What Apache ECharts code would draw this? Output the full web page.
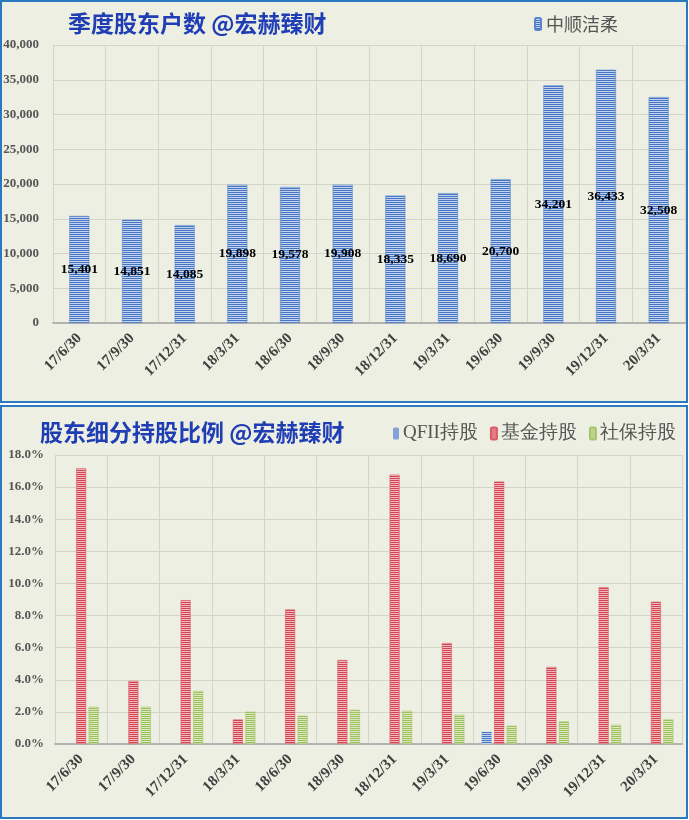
<!DOCTYPE html>
<html><head><meta charset="utf-8">
<script src="https://cdn.jsdelivr.net/npm/echarts@6/dist/echarts.min.js"></script>
<style>html,body{margin:0;padding:0;background:#fff;}#c{width:689px;height:820px;}</style>
</head><body><div id="c"></div>
<script>
// ---- data ----
var categories = ['17/6/30','17/9/30','17/12/31','18/3/31','18/6/30','18/9/30','18/12/31','19/3/31','19/6/30','19/9/30','19/12/31','20/3/31'];
var holders = [15401,14851,14085,19898,19578,19908,18335,18690,20700,34201,36433,32508];
var qfiiPct = [0,0,0,0,0,0,0,0,0.77,0,0,0];
var fundPct = [17.17,3.93,8.96,1.53,8.38,5.23,16.78,6.29,16.35,4.80,9.77,8.86];
var ssfPct  = [2.32,2.32,3.31,2.01,1.76,2.13,2.07,1.82,1.14,1.41,1.20,1.53];
var topTicks = [0,5000,10000,15000,20000,25000,30000,35000,40000];
var bottomTicks = [0,2,4,6,8,10,12,14,16,18];

function stripe(dark, light){
  var cv = document.createElement('canvas');
  cv.width = 4; cv.height = 2;
  var g = cv.getContext('2d');
  g.fillStyle = dark; g.fillRect(0,0,4,1);
  g.fillStyle = light; g.fillRect(0,1,4,1);
  return {image: cv, repeat: 'repeat'};
}
var blueP = stripe('#4675c4', '#c3d3ee');
var redP = stripe('#d2444f', '#f4b9be');
var greenP = stripe('#9dbf5c', '#dce8bf');

var bg = '#edefe2';
var frame = '#2a78c0';
var serif = '"Liberation Serif","Times New Roman",serif';
var cjk = '"Noto Sans CJK SC","Noto Sans",sans-serif';
var gridLine = '#d2d5c8';

var chart = echarts.init(document.getElementById('c'), null, {renderer:'canvas'});
chart.setOption({
  backgroundColor: '#ffffff',
  animation: false,
  graphic: [
    {type:'rect', z:-10, shape:{x:1,y:1,width:686,height:401}, style:{fill:bg, stroke:frame, lineWidth:2}},
    {type:'rect', z:-10, shape:{x:1,y:406,width:686,height:412}, style:{fill:bg, stroke:frame, lineWidth:2}}
  ],
  title: [
    {text:'季度股东户数 @宏赫臻财', left:63, top:7, textStyle:{fontFamily:cjk, fontSize:23, fontWeight:'bold', color:'#1f3db5'}},
    {text:'股东细分持股比例 @宏赫臻财', left:35, top:416, textStyle:{fontFamily:cjk, fontSize:23, fontWeight:'bold', color:'#1f3db5'}}
  ],
  legend: [
    {data:['中顺洁柔'], left:529, top:10, itemWidth:6, itemHeight:12, itemGap:10,
     textStyle:{fontFamily:cjk, fontSize:18, color:'#555555', padding:[0,0,0,0]}},
    {data:['QFII持股','基金持股','社保持股'], left:388, top:419, itemWidth:6, itemHeight:12, itemGap:12,
     textStyle:{fontFamily:serif, fontSize:19, color:'#555555', padding:[0,0,0,-1]}}
  ],
  grid: [
    {left:53, right:4, top:45, bottom:497, containLabel:false},
    {left:55, right:7, top:455, bottom:76, containLabel:false}
  ],
  xAxis: [
    {type:'category', gridIndex:0, data:categories,
     axisLine:{lineStyle:{color:'#b3b3b3', width:2}}, axisTick:{show:false},
     splitLine:{show:true, lineStyle:{color:gridLine}},
     axisLabel:{rotate:45, margin:13, fontFamily:serif, fontSize:15, fontWeight:'bold', color:'#404040', interval:0}},
    {type:'category', gridIndex:1, data:categories,
     axisLine:{lineStyle:{color:'#b3b3b3', width:2}}, axisTick:{show:false},
     splitLine:{show:true, lineStyle:{color:gridLine}},
     axisLabel:{rotate:45, margin:13, fontFamily:serif, fontSize:15, fontWeight:'bold', color:'#404040', interval:0}}
  ],
  yAxis: [
    {type:'value', gridIndex:0, min:topTicks[0], max:topTicks[topTicks.length-1], interval:5000,
     axisLine:{show:false}, axisTick:{show:false},
     splitLine:{lineStyle:{color:gridLine}},
     axisLabel:{margin:14, fontFamily:serif, fontSize:13, fontWeight:'bold', color:'#555555',
       formatter:function(v){return v.toLocaleString('en-US');}}},
    {type:'value', gridIndex:1, min:bottomTicks[0], max:bottomTicks[bottomTicks.length-1], interval:2,
     axisLine:{show:false}, axisTick:{show:false},
     splitLine:{lineStyle:{color:gridLine}},
     axisLabel:{margin:11, fontFamily:serif, fontSize:13, fontWeight:'bold', color:'#555555',
       formatter:function(v){return v.toFixed(1)+'%';}}}
  ],
  series: [
    {name:'中顺洁柔', type:'bar', xAxisIndex:0, yAxisIndex:0, data:holders, barWidth:20,
     itemStyle:{color:blueP, borderColor:'#5b86cf', borderWidth:0.6},
     label:{show:true, position:'inside', fontFamily:serif, fontSize:13.5, fontWeight:'bold', color:'#000000',
       formatter:function(p){return p.value.toLocaleString('en-US');}}},
    {name:'QFII持股', type:'bar', xAxisIndex:1, yAxisIndex:1, data:qfiiPct, barWidth:10, barGap:'25%',
     itemStyle:{color:blueP, borderWidth:0}},
    {name:'基金持股', type:'bar', xAxisIndex:1, yAxisIndex:1, data:fundPct, barWidth:10, barGap:'25%',
     itemStyle:{color:redP, borderColor:'#d85c66', borderWidth:0.6}},
    {name:'社保持股', type:'bar', xAxisIndex:1, yAxisIndex:1, data:ssfPct, barWidth:10, barGap:'25%',
     itemStyle:{color:greenP, borderColor:'#a8c46e', borderWidth:0.6}}
  ]
});
</script></body></html>
